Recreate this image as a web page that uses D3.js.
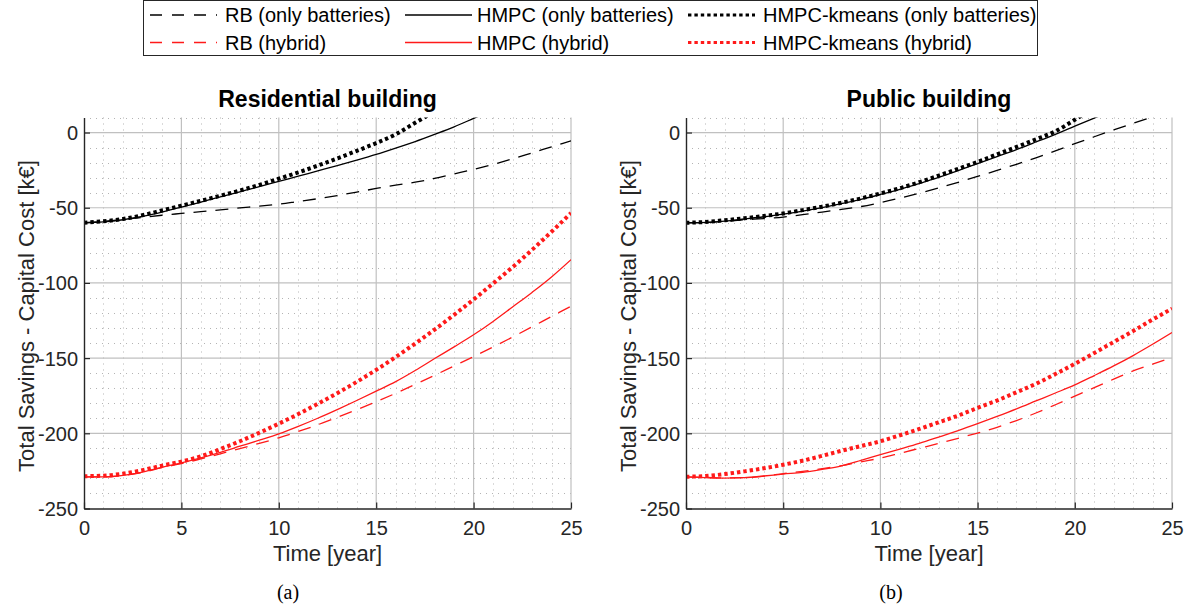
<!DOCTYPE html>
<html>
<head>
<meta charset="utf-8">
<script src="https://cdn.jsdelivr.net/npm/d3@7"></script>
<style>
  html, body { margin: 0; padding: 0; background: #fff; }
  svg { display: block; font-family: "Liberation Sans", Arial, sans-serif; }
</style>
</head>
<body>
<svg id="chart" width="1192" height="612"></svg>
<script>
// ---- data -------------------------------------------------------------
const years = [0, 1, 2, 3, 4, 5, 6, 7, 8, 9, 10, 11, 12, 13, 14, 15, 16, 17, 18, 19, 20, 21, 22, 23, 24, 25];
const xTicks = [0, 5, 10, 15, 20, 25];
const yTicks = [-250, -200, -150, -100, -50, 0];
const legendLabels = [
  "RB (only batteries)", "HMPC (only batteries)", "HMPC-kmeans (only batteries)",
  "RB (hybrid)", "HMPC (hybrid)", "HMPC-kmeans (hybrid)"
];

// Residential building: total savings minus capital cost [k€] per year
const resRbOnly    = [-60, -59, -57.8, -56.4, -55, -53.8, -52.6, -51.4, -50.1, -49, -47.6, -45.8, -44, -41.9, -39.6, -37.2, -35, -33, -30.5, -27.5, -24.5, -21.2, -17.5, -13.5, -9.5, -5.5];
const resHmpcOnly  = [-60, -59.4, -58, -55.8, -52.9, -49.6, -46.2, -42.8, -39.4, -36, -32.5, -29, -25.5, -22, -18.4, -14.6, -10.4, -6, -1.2, 3.8, 9.4, 15, null, null, null, null];
const resKmOnly    = [-60, -59, -57.5, -55, -51.8, -48.6, -45.4, -42, -38.6, -34.8, -30.7, -26.5, -22, -17.2, -12.2, -7, -1.2, 6.5, 14, null, null, null, null, null, null, null];
const resRbHyb     = [-229, -229, -228, -226, -222.8, -220.2, -217, -213.6, -210.2, -206.7, -203, -198.8, -194.3, -189.4, -184.3, -179, -173.4, -167.5, -161.4, -155.2, -149, -142.6, -136, -129.2, -122.3, -115.5];
const resHmpcHyb   = [-229, -229, -228, -225.8, -222.6, -219.6, -216.3, -212.6, -208.6, -204.6, -200.4, -195.4, -190, -184.2, -178.2, -172, -165.6, -158.2, -150.3, -142.5, -134.5, -125.6, -116, -106.3, -96, -84.5];
const resKmHyb     = [-228.5, -228.2, -226.8, -224.5, -221.5, -218.8, -215.3, -210.5, -205.3, -199.6, -193.6, -187.2, -180.4, -173.3, -165.8, -157.8, -149.3, -140.3, -131, -121.2, -111, -100.4, -89.5, -78, -66, -53.5];

// Public building
const pubRbOnly    = [-60, -59.8, -59, -58, -57.2, -56.2, -54.6, -52.9, -51.1, -49.2, -46.6, -43.6, -40.3, -36.8, -33.1, -29.2, -25.2, -21.1, -16.8, -12.2, -7.4, -2.8, 1.7, 6.1, 10.4, 14.7];
const pubHmpcOnly  = [-60, -59.7, -58.9, -57.5, -56, -54.2, -52.2, -49.9, -47.3, -44.4, -41.2, -37.8, -33.9, -29.8, -25.3, -20.6, -16, -11.3, -6.3, -1.2, 4.2, 9.6, 15, null, null, null];
const pubKmOnly    = [-60, -59.5, -58.3, -57, -55.5, -53.8, -51.6, -49.3, -46.7, -43.8, -40.5, -37, -33, -28.6, -24.1, -19.5, -14.5, -9.6, -4.5, 0.8, 8.5, 16.5, null, null, null, null];
const pubRbHyb     = [-229, -229.3, -229.6, -229.5, -228.5, -226.8, -225.3, -223.5, -221.5, -219, -216.5, -213.3, -210, -206.7, -203.3, -199.8, -196, -191.5, -186.5, -181, -175.3, -169.6, -164, -158.5, -154, -149.5];
const pubHmpcHyb   = [-229, -229.5, -229.8, -229.5, -228.4, -227.1, -226, -224, -221.6, -218, -214.2, -210.5, -206.7, -202.5, -198.2, -193.6, -188.8, -183.8, -178.5, -173.2, -167.8, -161.6, -155.2, -148.3, -140.8, -133];
const pubKmHyb     = [-228.9, -228.4, -227.1, -225.3, -223.3, -220.9, -218.2, -215, -211.6, -208.5, -205.3, -201.3, -197.1, -192.7, -188.2, -183.1, -178.2, -172.7, -167.1, -160.6, -153.8, -146.6, -139.3, -132, -124.4, -117.1];

// ---- styling ----------------------------------------------------------
const RED = "#ff1a1a";
const INK = "#262626";
const lineStyles = [
  { color: "#000", dash: "13,9",  width: 1.3 },
  { color: "#000", dash: null,    width: 1.3 },
  { color: "#000", dash: "3.4,3", width: 4 },
  { color: RED,    dash: "13,9",  width: 1.3 },
  { color: RED,    dash: null,    width: 1.3 },
  { color: RED,    dash: "3.4,3", width: 4 }
];

const panels = [
  { title: "Residential building", caption: "(a)", captionX: 288, range: [84, 571],
    series: [resRbOnly, resHmpcOnly, resKmOnly, resRbHyb, resHmpcHyb, resKmHyb] },
  { title: "Public building", caption: "(b)", captionX: 891, range: [686, 1172],
    series: [pubRbOnly, pubHmpcOnly, pubKmOnly, pubRbHyb, pubHmpcHyb, pubKmHyb] }
];

const plotTop = 117.5, plotBottom = 508.5;
const svg = d3.select("#chart");

panels.forEach((p, pi) => {
  const x = d3.scaleLinear().domain([0, 25]).range(p.range);
  const y = d3.scaleLinear().domain([-250, 10]).range([plotBottom, plotTop]);
  const g = svg.append("g");
  const [x0, x1] = p.range;

  const clipId = "clip" + pi;
  svg.append("defs").append("clipPath").attr("id", clipId)
    .append("rect").attr("x", x0).attr("y", plotTop)
    .attr("width", x1 - x0).attr("height", plotBottom - plotTop);

  // minor grid (dotted)
  const minor = g.append("g").attr("stroke", "#b4b4b4").attr("stroke-width", 1)
    .attr("stroke-dasharray", "1,5");
  minor.selectAll("line.mx").data(x.ticks(25).filter(v => xTicks.indexOf(v) < 0))
    .join("line").attr("class", "mx")
    .attr("x1", d => Math.round(x(d)) + 0.5).attr("x2", d => Math.round(x(d)) + 0.5)
    .attr("y1", plotBottom).attr("y2", plotTop);
  minor.selectAll("line.my").data(y.ticks(26).filter(v => yTicks.indexOf(v) < 0))
    .join("line").attr("class", "my")
    .attr("x1", x0).attr("x2", x1)
    .attr("y1", d => Math.round(y(d)) + 0.5).attr("y2", d => Math.round(y(d)) + 0.5);

  // major grid
  const major = g.append("g").attr("stroke", "#c0c0c0").attr("stroke-width", 1.2);
  major.selectAll("line.gx").data(xTicks.slice(1)).join("line").attr("class", "gx")
    .attr("x1", d => x(d)).attr("x2", d => x(d))
    .attr("y1", plotBottom).attr("y2", plotTop);
  major.selectAll("line.gy").data(yTicks.slice(1)).join("line").attr("class", "gy")
    .attr("x1", x0).attr("x2", x1)
    .attr("y1", d => y(d)).attr("y2", d => y(d));

  // series
  const line = d3.line()
    .defined(d => d != null)
    .x((d, j) => x(years[j]))
    .y(d => y(d))
    .curve(d3.curveMonotoneX);
  const lines = g.append("g").attr("clip-path", `url(#${clipId})`);
  p.series.forEach((vals, si) => {
    const s = lineStyles[si];
    lines.append("path")
      .datum(vals)
      .attr("d", line)
      .attr("fill", "none")
      .attr("stroke", s.color)
      .attr("stroke-width", s.width)
      .attr("stroke-dasharray", s.dash)
      .attr("stroke-linecap", "butt");
  });

  // axes (ticks point inward, plain hyphen for negatives)
  const fmt = d => String(d);
  const yAxis = d3.axisLeft(y).tickValues(yTicks).tickFormat(fmt)
    .tickSizeInner(-6).tickSizeOuter(0).tickPadding(6);
  const xAxis = d3.axisBottom(x).tickValues(xTicks).tickFormat(fmt)
    .tickSizeInner(-6).tickSizeOuter(0).tickPadding(12);
  const ya = g.append("g").attr("transform", `translate(${x0},0)`).call(yAxis);
  const xa = g.append("g").attr("transform", `translate(0,${plotBottom})`).call(xAxis);
  [ya, xa].forEach(a => {
    a.select(".domain").attr("stroke", INK).attr("stroke-width", 1.4);
    a.selectAll(".tick line").attr("stroke", INK).attr("stroke-width", 1.2);
    a.selectAll(".tick text").attr("fill", INK)
      .style("font-size", "20px")
      .style("font-family", "\"Liberation Sans\", Arial, sans-serif");
  });
  ya.selectAll(".tick text").attr("dy", "0.35em");

  // titles and labels
  const cx = (x0 + x1) / 2;
  g.append("text").attr("x", cx).attr("y", 107).attr("text-anchor", "middle")
    .style("font-size", "23px").style("font-weight", "bold").attr("fill", "#000")
    .text(p.title);
  g.append("text").attr("x", cx).attr("y", 561).attr("text-anchor", "middle")
    .style("font-size", "22px").attr("fill", INK).text("Time [year]");
  g.append("text")
    .attr("transform", `translate(${x0 - 58},316) rotate(-90)`)
    .attr("text-anchor", "middle").attr("dy", "0.35em")
    .style("font-size", "22px").attr("fill", INK)
    .text("Total Savings - Capital Cost [k€]");
  g.append("text").attr("x", p.captionX).attr("y", 599).attr("text-anchor", "middle")
    .style("font-family", "\"Liberation Serif\", \"Times New Roman\", serif")
    .style("font-size", "20px").attr("fill", "#000").text(p.caption);
});

// ---- legend -----------------------------------------------------------
const legend = svg.append("g");
legend.append("rect").attr("x", 143.5).attr("y", 0.5).attr("width", 894).attr("height", 55)
  .attr("fill", "#fff").attr("stroke", INK).attr("stroke-width", 1);
const legendCols = [
  { lx: 150, tx: 225 },
  { lx: 405, tx: 477 },
  { lx: 688, tx: 763 }
];
const legendRows = [15, 42.5];
legendLabels.forEach((lab, i) => {
  const col = legendCols[i % 3], ry = legendRows[Math.floor(i / 3)];
  const s = lineStyles[i];
  legend.append("line")
    .attr("x1", col.lx).attr("x2", col.lx + 67).attr("y1", ry).attr("y2", ry)
    .attr("stroke", s.color).attr("stroke-width", s.width === 4 ? 3.2 : s.width)
    .attr("stroke-dasharray", s.dash === "13,9" ? "12,10" : s.dash);
  legend.append("text").attr("x", col.tx).attr("y", ry).attr("dy", "0.35em")
    .style("font-size", "20px").attr("fill", "#000").text(lab);
});
</script>
</body>
</html>
